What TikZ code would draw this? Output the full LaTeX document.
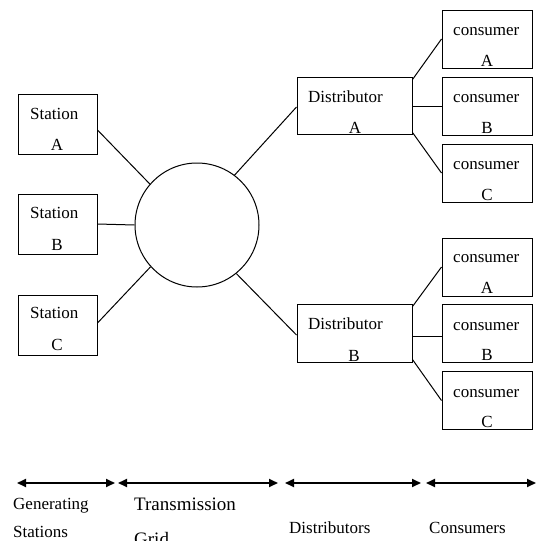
\documentclass[tikz,border=0pt]{standalone}
\usepackage{fontspec}
\setmainfont{Liberation Serif}
\usetikzlibrary{arrows.meta,calc}
\begin{document}
\begin{tikzpicture}[x=1pt,y=-1pt,
  box/.style={draw,line width=1pt,inner sep=0pt},
  stbox/.style={box,minimum width=79pt,minimum height=60pt},
  dbox/.style={box,minimum width=115pt,minimum height=57pt},
  cbox/.style={box,minimum width=90pt,minimum height=58pt},
  txt/.style={inner sep=0pt,anchor=base west,font=\fontsize{17}{20}\selectfont},
  ctxt/.style={inner sep=0pt,anchor=base,font=\fontsize{17}{20}\selectfont},
  btxt/.style={inner sep=0pt,anchor=base west,font=\fontsize{19}{22}\selectfont},
  conn/.style={line width=1pt},
  span/.style={line width=1.8pt,{Triangle[length=9pt,width=8pt]}-{Triangle[length=9pt,width=8pt]}}]
\useasboundingbox (0,0) rectangle (538,541);
% stations
\node[stbox] (sa) at (57.5,124) {};
\node[stbox] (sb) at (57.5,224) {};
\node[stbox] (sc) at (57.5,325) {};
\node[txt] (sat) at (30,119) {Station};
\node[ctxt] (sal) at (57,150) {A};
\node[txt] (sbt) at (30,218) {Station};
\node[ctxt] (sbl) at (57,250) {B};
\node[txt] (sct) at (30,318) {Station};
\node[ctxt] (scl) at (57,350) {C};
% grid
\node[draw,circle,line width=1pt,minimum size=124pt,inner sep=0pt] (tg) at (197,225) {};
% distributors
\node[dbox] (da) at (354.5,105.5) {};
\node[box,minimum width=115pt,minimum height=58pt] (db) at (354.5,333) {};
\node[txt] (dat) at (308,102) {Distributor};
\node[ctxt] (dal) at (355,133) {A};
\node[txt] (dbt) at (308,329) {Distributor};
\node[ctxt] (dbl) at (354,361) {B};
% consumers
\node[cbox] (ca1) at (487,39) {};
\node[cbox] (cb1) at (487,106) {};
\node[cbox] (cc1) at (487,173) {};
\node[cbox] (ca2) at (487,267) {};
\node[cbox] (cb2) at (487,333) {};
\node[cbox] (cc2) at (487,400.5) {};
\node[txt] (ca1t) at (453,35) {consumer};
\node[ctxt] (ca1l) at (487,66) {A};
\node[txt] (cb1t) at (453,102) {consumer};
\node[ctxt] (cb1l) at (487,133) {B};
\node[txt] (cc1t) at (453,169) {consumer};
\node[ctxt] (cc1l) at (487,200) {C};
\node[txt] (ca2t) at (453,262) {consumer};
\node[ctxt] (ca2l) at (487,293) {A};
\node[txt] (cb2t) at (453,330) {consumer};
\node[ctxt] (cb2l) at (487,360) {B};
\node[txt] (cc2t) at (453,397) {consumer};
\node[ctxt] (cc2l) at (487,427) {C};
% connectors
\draw[conn] ($(sa.east)+(0,6)$) -- (tg.139);
\draw[conn] (sb.east) -- (tg.west);
\draw[conn] ($(sc.east)+(0,-2)$) -- (tg.222);
\draw[conn] (tg.53) -- ($(da.west)+(0,1.5)$);
\draw[conn] (tg.-51) -- ($(db.west)+(0,2)$);
\draw[conn] ($(da.north east)+(0,3)$) -- (ca1.west);
\draw[conn] ($(da.east)+(0,1)$) -- ($(cb1.west)+(0,0.5)$);
\draw[conn] ($(da.south east)+(0,-2)$) -- (cc1.west);
\draw[conn] ($(db.north east)+(0,3)$) -- (ca2.west);
\draw[conn] ($(db.east)+(0,3)$) -- ($(cb2.west)+(0,3)$);
\draw[conn] ($(db.south east)+(0,-3)$) -- (cc2.west);
% bottom spans
\coordinate (g1) at (17,483);
\coordinate (g2) at (115,483);
\coordinate (t1) at (118,483);
\coordinate (t2) at (278,483);
\coordinate (d1) at (285,483);
\coordinate (d2) at (421,483);
\coordinate (c1) at (426,483);
\coordinate (c2) at (536,483);
\draw[span] (g1) -- (g2);
\draw[span] (t1) -- (t2);
\draw[span] (d1) -- (d2);
\draw[span] (c1) -- (c2);
\node[txt] (gen1) at (13,509) {Generating};
\node[txt] (gen2) at (13,537) {Stations};
\node[btxt] (tr1) at (134,510) {Transmission};
\node[btxt] (tr2) at (134,545) {Grid};
\node[txt] (dist) at (289,533) {Distributors};
\node[txt] (cons) at (429,533) {Consumers};
\end{tikzpicture}
\end{document}
